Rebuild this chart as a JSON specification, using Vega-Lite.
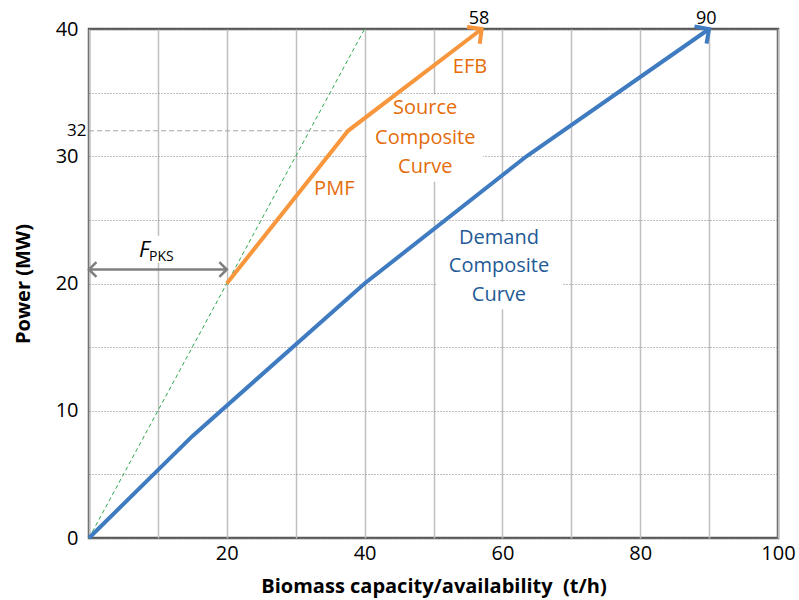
{
  "$schema": "https://vega.github.io/schema/vega-lite/v6.json",
  "width": 689,
  "height": 509,
  "autosize": {"type": "none"},
  "padding": {"left": 89, "top": 29, "right": 21, "bottom": 62},
  "background": "white",
  "config": {
    "view": {"stroke": "#595959", "strokeWidth": 2.5},
    "font": "Open Sans"
  },
  "datasets": {
    "demand": [
      {"capacity": 0, "power": 0},
      {"capacity": 15, "power": 8},
      {"capacity": 40, "power": 20},
      {"capacity": 63.5, "power": 30},
      {"capacity": 90, "power": 40}
    ],
    "source": [
      {"capacity": 20, "power": 20},
      {"capacity": 37.6, "power": 32},
      {"capacity": 57, "power": 40}
    ],
    "diag": [
      {"capacity": 0, "power": 0},
      {"capacity": 40, "power": 40}
    ],
    "ref32": [
      {"capacity": 0, "power": 32},
      {"capacity": 37.6, "power": 32}
    ],
    "fpks": [
      {"capacity": 0, "power": 21.1},
      {"capacity": 20, "power": 21.1}
    ],
    "boxes": [
      {"x1": 40.5, "x2": 57.2, "y1": 28.0, "y2": 34.85},
      {"x1": 50.4, "x2": 68.8, "y1": 17.95, "y2": 24.85},
      {"x1": 7.4, "x2": 13.9, "y1": 21.65, "y2": 23.75}
    ],
    "orangeText": [
      {"capacity": 55.3, "power": 36.98, "label": "EFB"},
      {"capacity": 48.8, "power": 33.78, "label": "Source"},
      {"capacity": 48.8, "power": 31.42, "label": "Composite"},
      {"capacity": 48.8, "power": 29.13, "label": "Curve"},
      {"capacity": 35.6, "power": 27.4, "label": "PMF"}
    ],
    "blueText": [
      {"capacity": 59.5, "power": 23.58, "label": "Demand"},
      {"capacity": 59.5, "power": 21.34, "label": "Composite"},
      {"capacity": 59.5, "power": 19.06, "label": "Curve"}
    ],
    "endText": [
      {"capacity": 56.6, "power": 40, "label": "58"},
      {"capacity": 89.6, "power": 40, "label": "90"}
    ],
    "fLabel": [
      {"capacity": 8.27, "power": 22.1, "main": "F", "sub": "PKS"}
    ]
  },
  "layer": [
    {
      "data": {"name": "boxes"},
      "mark": {"type": "rect", "fill": "white", "stroke": null},
      "encoding": {
        "x": {
          "field": "x1", "type": "quantitative",
          "scale": {"domain": [0, 100], "nice": false},
          "axis": {
            "values": [0, 10, 20, 30, 40, 50, 60, 70, 80, 90, 100],
            "labelExpr": "datum.value % 20 == 0 && datum.value > 0 ? datum.label : ''",
            "labelFlush": false,
            "labelOverlap": false,
            "grid": true,
            "gridColor": "#BFBFBF",
            "gridWidth": 1.5,
            "ticks": false,
            "domain": false,
            "labelFontSize": 20,
            "labelColor": "#000000",
            "labelPadding": 5,
            "title": "Biomass capacity/availability\u00a0 (t/h)",
            "titleFontSize": 20,
            "titleFontWeight": "bold",
            "titleColor": "#000000",
            "titlePadding": 13
          }
        },
        "x2": {"field": "x2"},
        "y": {
          "field": "y1", "type": "quantitative",
          "scale": {"domain": [0, 40], "nice": false},
          "axis": {
            "values": [0, 5, 10, 15, 20, 25, 30, 32, 35, 40],
            "labelExpr": "datum.value % 10 == 0 || datum.value == 32 ? datum.label : ''",
            "labelFlush": false,
            "labelOverlap": false,
            "grid": true,
            "gridColor": "#7F7F7F",
            "gridDash": [1, 2],
            "gridWidth": 1,
            "gridOpacity": {"condition": {"test": "datum.value == 32", "value": 0}, "value": 1},
            "ticks": false,
            "domain": false,
            "labelFontSize": {"condition": {"test": "datum.value == 32", "value": 17}, "value": 20},
            "labelPadding": {"condition": {"test": "datum.value == 32", "value": 3}, "value": 11},
            "labelColor": "#000000",
            "title": "Power (MW)",
            "titleFontSize": 20,
            "titleFontWeight": "bold",
            "titleColor": "#000000",
            "titlePadding": 22
          }
        },
        "y2": {"field": "y2"}
      }
    },
    {
      "data": {"name": "diag"},
      "mark": {"type": "line", "color": "#2EAA4E", "strokeWidth": 1, "strokeDash": [4, 3]},
      "encoding": {
        "x": {"field": "capacity", "type": "quantitative"},
        "y": {"field": "power", "type": "quantitative"}
      }
    },
    {
      "data": {"name": "ref32"},
      "mark": {"type": "line", "color": "#A6A6A6", "strokeWidth": 1, "strokeDash": [5, 3]},
      "encoding": {
        "x": {"field": "capacity", "type": "quantitative"},
        "y": {"field": "power", "type": "quantitative"}
      }
    },
    {
      "data": {"name": "fpks"},
      "mark": {"type": "line", "color": "#7F7F7F", "strokeWidth": 2.5},
      "encoding": {
        "x": {"field": "capacity", "type": "quantitative"},
        "y": {"field": "power", "type": "quantitative"}
      }
    },
    {
      "data": {"name": "fpks"},
      "transform": [{"filter": "datum.capacity == 0"}],
      "mark": {"type": "point", "shape": "M-0.7,0.7L0,0L0.7,0.7", "angle": 270, "size": 450, "filled": false, "color": "#7F7F7F", "strokeWidth": 2.5, "opacity": 1},
      "encoding": {
        "x": {"field": "capacity", "type": "quantitative"},
        "y": {"field": "power", "type": "quantitative"}
      }
    },
    {
      "data": {"name": "fpks"},
      "transform": [{"filter": "datum.capacity == 20"}],
      "mark": {"type": "point", "shape": "M-0.7,0.7L0,0L0.7,0.7", "angle": 90, "size": 450, "filled": false, "color": "#7F7F7F", "strokeWidth": 2.5, "opacity": 1},
      "encoding": {
        "x": {"field": "capacity", "type": "quantitative"},
        "y": {"field": "power", "type": "quantitative"}
      }
    },
    {
      "data": {"name": "demand"},
      "mark": {"type": "line", "color": "#3F7BC0", "strokeWidth": 4},
      "encoding": {
        "x": {"field": "capacity", "type": "quantitative"},
        "y": {"field": "power", "type": "quantitative"}
      }
    },
    {
      "data": {"name": "source"},
      "mark": {"type": "line", "color": "#F7963C", "strokeWidth": 4},
      "encoding": {
        "x": {"field": "capacity", "type": "quantitative"},
        "y": {"field": "power", "type": "quantitative"}
      }
    },
    {
      "data": {"name": "demand"},
      "transform": [{"filter": "datum.capacity == 90"}],
      "mark": {"type": "point", "shape": "M-0.7,0.7L0,0L0.7,0.7", "angle": 55.1, "size": 900, "filled": false, "color": "#3F7BC0", "strokeWidth": 4, "opacity": 1},
      "encoding": {
        "x": {"field": "capacity", "type": "quantitative"},
        "y": {"field": "power", "type": "quantitative"}
      }
    },
    {
      "data": {"name": "source"},
      "transform": [{"filter": "datum.capacity == 57"}],
      "mark": {"type": "point", "shape": "M-0.7,0.7L0,0L0.7,0.7", "angle": 52.7, "size": 900, "filled": false, "color": "#F7963C", "strokeWidth": 4, "opacity": 1},
      "encoding": {
        "x": {"field": "capacity", "type": "quantitative"},
        "y": {"field": "power", "type": "quantitative"}
      }
    },
    {
      "data": {"name": "orangeText"},
      "mark": {"type": "text", "color": "#E46C0A", "fontSize": 20, "align": "center", "baseline": "middle"},
      "encoding": {
        "x": {"field": "capacity", "type": "quantitative"},
        "y": {"field": "power", "type": "quantitative"},
        "text": {"field": "label"}
      }
    },
    {
      "data": {"name": "blueText"},
      "mark": {"type": "text", "color": "#1F5A96", "fontSize": 20, "align": "center", "baseline": "middle"},
      "encoding": {
        "x": {"field": "capacity", "type": "quantitative"},
        "y": {"field": "power", "type": "quantitative"},
        "text": {"field": "label"}
      }
    },
    {
      "data": {"name": "endText"},
      "mark": {"type": "text", "color": "#000000", "fontSize": 18, "align": "center", "baseline": "bottom", "dy": -1},
      "encoding": {
        "x": {"field": "capacity", "type": "quantitative"},
        "y": {"field": "power", "type": "quantitative"},
        "text": {"field": "label"}
      }
    },
    {
      "data": {"name": "fLabel"},
      "mark": {"type": "text", "color": "#000000", "fontSize": 22, "fontStyle": "italic", "align": "left", "baseline": "alphabetic", "dx": -7},
      "encoding": {
        "x": {"field": "capacity", "type": "quantitative"},
        "y": {"field": "power", "type": "quantitative"},
        "text": {"field": "main"}
      }
    },
    {
      "data": {"name": "fLabel"},
      "mark": {"type": "text", "color": "#000000", "fontSize": 14, "align": "left", "baseline": "alphabetic", "dx": 3, "dy": 4},
      "encoding": {
        "x": {"field": "capacity", "type": "quantitative"},
        "y": {"field": "power", "type": "quantitative"},
        "text": {"field": "sub"}
      }
    }
  ]
}
